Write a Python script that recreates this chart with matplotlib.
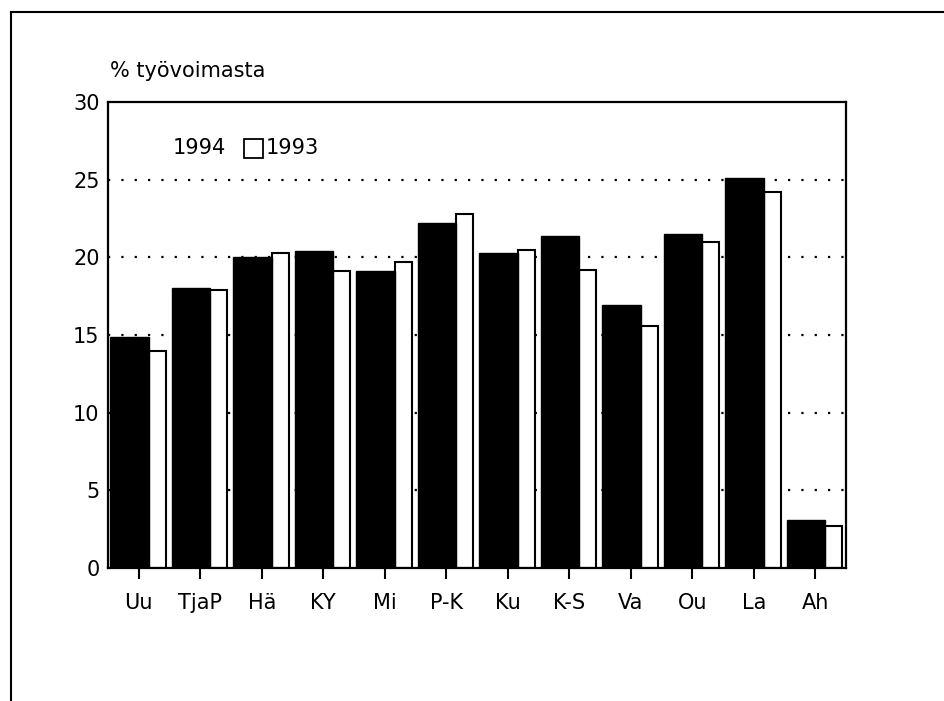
import matplotlib
matplotlib.use("Agg")
import matplotlib.pyplot as plt
import numpy as np
from matplotlib.lines import Line2D
from matplotlib.patches import Rectangle

plt.rcParams["font.family"] = ["DejaVu Sans"]

regions = ["Uu", "TjaP", "Hä", "KY", "Mi", "P-K", "Ku", "K-S", "Va", "Ou", "La", "Ah"]
vals_1994 = [14.9, 18.0, 20.0, 20.4, 19.1, 22.2, 20.3, 21.4, 16.9, 21.5, 25.1, 3.1]
vals_1993 = [14.0, 17.9, 20.3, 19.1, 19.7, 22.8, 20.5, 19.2, 15.6, 21.0, 24.2, 2.7]
yticks = [0, 5, 10, 15, 20, 25, 30]

fig = plt.figure(figsize=(9.45, 7.01), dpi=100)
ax = fig.add_axes([0.1143, 0.1897, 0.7809, 0.6648])

x = np.arange(len(regions))
# 1993 drawn narrow to the right, 1994 wide black bar
ax.bar(x + 0.30, vals_1993, width=0.28, color="white", edgecolor="black",
       linewidth=1.5, zorder=2)
ax.bar(x - 0.15, vals_1994, width=0.62, color="black", edgecolor="black",
       linewidth=1.0, zorder=3)

ax.set_xlim(-0.5, len(regions) - 0.5)
ax.set_ylim(0, 30)
ax.set_yticks(yticks)
ax.set_xticks(x)
ax.set_xticklabels(regions)

for y in yticks[1:-1]:
    ax.axhline(y, color="black", linestyle=(0, (1, 5)), linewidth=1.6, zorder=1)

for s in ax.spines.values():
    s.set_linewidth(1.6)
ax.tick_params(axis="y", length=0, pad=6, labelsize=15)
ax.tick_params(axis="x", length=8, width=1.5, direction="out", pad=10, labelsize=15)

# legend
ax.text(0.088, 0.901, "1994", transform=ax.transAxes, fontsize=15, va="center", ha="left")
ax.add_patch(Rectangle((0.184, 0.880), 0.026, 0.041, transform=ax.transAxes,
                       facecolor="white", edgecolor="black", linewidth=1.3, zorder=5))
ax.text(0.213, 0.901, "1993", transform=ax.transAxes, fontsize=15, va="center", ha="left")

fig.text(110 / 945, 1 - 71 / 701, "% työvoimasta", fontsize=15, va="center", ha="left")

# outer frame (left and top)
fig.add_artist(Line2D([11 / 945, 11 / 945], [0, 1 - 12 / 701], transform=fig.transFigure,
                      color="black", linewidth=1.5))
fig.add_artist(Line2D([11 / 945, 1], [1 - 12 / 701, 1 - 12 / 701], transform=fig.transFigure,
                      color="black", linewidth=1.5))

fig.savefig("out.png", dpi=100)
